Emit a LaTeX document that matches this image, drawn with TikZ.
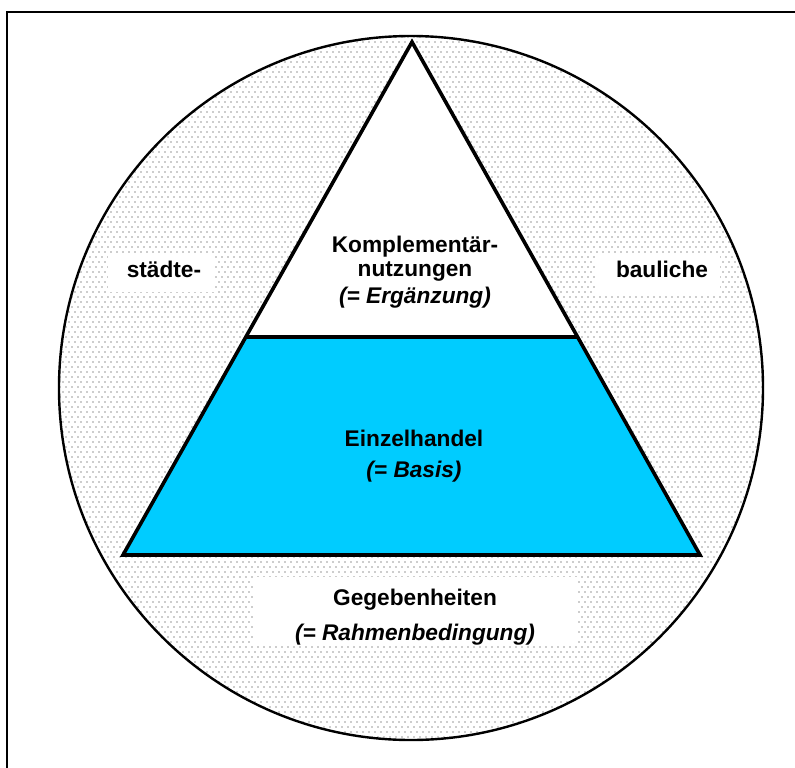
\documentclass[tikz,border=0pt]{standalone}
\usepackage{fontspec}
\setmainfont{Liberation Sans}
\usetikzlibrary{patterns}
\pgfdeclarepatternformonly{sparsedots}{\pgfqpoint{-0.6pt}{-0.6pt}}{\pgfqpoint{2.9pt}{4.4pt}}{\pgfqpoint{4.5pt}{7.5pt}}{%
  \pgfpathcircle{\pgfqpoint{0pt}{0pt}}{0.5pt}%
  \pgfpathcircle{\pgfqpoint{2.25pt}{3.75pt}}{0.5pt}%
  \pgfusepath{fill}}
\definecolor{basecyan}{RGB}{0,204,255}
\tikzset{
  lbl/.style={font=\fontsize{17}{20}\selectfont\bfseries, anchor=base, inner sep=0pt},
  ilbl/.style={lbl, font=\fontsize{17}{20}\selectfont\bfseries\itshape},
  frame/.style={draw=black, line width=1.6pt},
  ring/.style={draw=black, line width=1.8pt, pattern=sparsedots, pattern color=black!85},
  tri/.style={draw=black, line width=2.7pt, line join=miter},
  whitebox/.style={fill=white, draw=none}
}
\begin{document}
\begin{tikzpicture}[x=0.75pt, y=-0.75pt]
\useasboundingbox (0,0) rectangle (795,767);
\clip (0,0) rectangle (795,767);
% outer frame (cut by the picture edge at right and bottom)
\draw[frame] (7,12) rectangle (810,790);
% circle
\coordinate (cc) at (411,388);
\draw[ring] (cc) circle [radius=352];
% white label boxes
\fill[whitebox] (108,253) rectangle (215,292);
\fill[whitebox] (595,255) rectangle (720,294);
\fill[whitebox] (253,577) rectangle (578,645);
% triangle
\coordinate (apex) at (412,42);
\coordinate (bl) at (123,555);
\coordinate (br) at (700,555);
\coordinate (ml) at (246.5,337);
\coordinate (mr) at (577.5,337);
\fill[white] (apex) -- (ml) -- (mr) -- cycle;
\fill[basecyan] (ml) -- (bl) -- (br) -- (mr) -- cycle;
\draw[tri] (ml) -- (mr);
\draw[tri] (apex) -- (bl) -- (br) -- cycle;
% texts
\node[lbl] (k1) at (415,252) {Komplementär-};
\node[lbl] (k2) at (415,276) {nutzungen};
\node[ilbl] (k3) at (415,303) {(= Ergänzung)};
\node[lbl] (e1) at (414,446) {Einzelhandel};
\node[ilbl] (e2) at (414,477) {(= Basis)};
\node[lbl] (s1) at (164,277) {städte-};
\node[lbl] (b1) at (662,277) {bauliche};
\node[lbl] (g1) at (415,605) {Gegebenheiten};
\node[ilbl] (g2) at (415,640) {(= Rahmenbedingung)};
\end{tikzpicture}
\end{document}
